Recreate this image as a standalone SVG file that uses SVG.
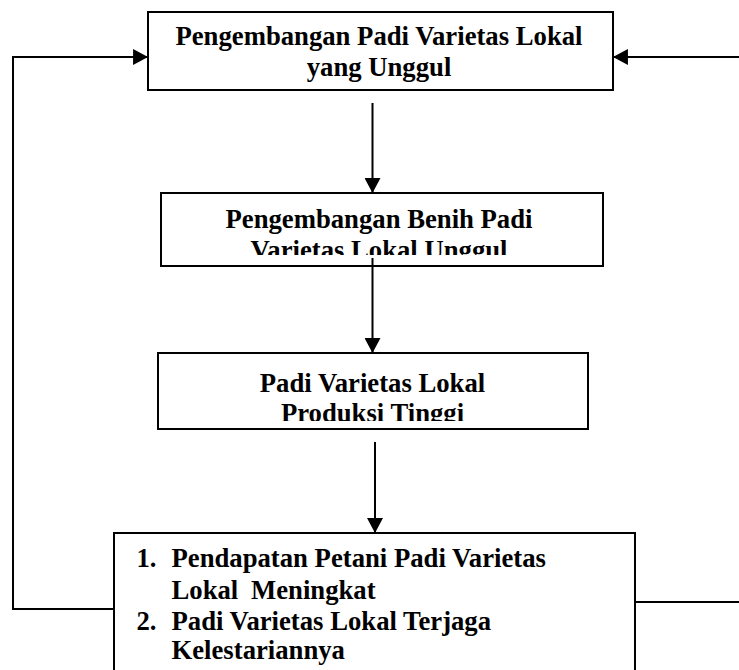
<svg xmlns="http://www.w3.org/2000/svg" width="739" height="670" viewBox="0 0 739 670">
<style>
.box{fill:#fff;stroke:#000;stroke-width:2}
.t{font-family:"Liberation Serif","Times New Roman",serif;font-weight:bold;font-size:26.7px;fill:#000}
.c{text-anchor:middle}
.ln{fill:none;stroke:#000;stroke-width:2}
</style>
<defs>
<marker id="ah" markerUnits="userSpaceOnUse" markerWidth="16" markerHeight="16" viewBox="0 0 14 15" refX="14" refY="7.5" orient="auto">
<path d="M0,0 L14,7.5 L0,15 Z" fill="#000"/>
</marker>
<clipPath id="clip2"><rect x="160" y="190" width="445" height="65"/></clipPath>
<clipPath id="clip3"><rect x="157" y="350" width="433" height="71"/></clipPath>
</defs>
<g id="n1">
<rect class="box" x="148" y="12" width="465" height="78"/>
<text class="t c" x="379" y="45">Pengembangan Padi Varietas Lokal</text>
<text class="t c" x="379" y="76">yang Unggul</text>
</g>
<g id="n2">
<rect class="box" x="161" y="193" width="442" height="73"/>
<g clip-path="url(#clip2)">
<text class="t c" x="379" y="228">Pengembangan Benih Padi</text>
<text class="t c" x="379" y="259">Varietas Lokal Unggul</text>
</g>
</g>
<g id="n3">
<rect class="box" x="158" y="353" width="430" height="76"/>
<g clip-path="url(#clip3)">
<text class="t c" x="372.5" y="391.5">Padi Varietas Lokal</text>
<text class="t c" x="372.5" y="422">Produksi Tinggi</text>
</g>
</g>
<g id="n4">
<rect class="box" x="114" y="533" width="521" height="150"/>
<text class="t" x="136.5" y="566.5">1.</text>
<text class="t" x="171.5" y="566.5">Pendapatan Petani Padi Varietas</text>
<text class="t" x="171.5" y="599">Lokal</text>
<text class="t" x="251" y="599">Meningkat</text>
<text class="t" x="136.5" y="630">2.</text>
<text class="t" x="171.5" y="630">Padi Varietas Lokal Terjaga</text>
<text class="t" x="171.5" y="658.5">Kelestariannya</text>
</g>
<g id="connectors">
<line class="ln" x1="372.5" y1="103" x2="372.5" y2="193" marker-end="url(#ah)"/>
<line class="ln" x1="372.5" y1="258" x2="372.5" y2="353" marker-end="url(#ah)"/>
<line class="ln" x1="375" y1="442" x2="375" y2="533" marker-end="url(#ah)"/>
<polyline class="ln" points="114,609 13,609 13,57 148,57" marker-end="url(#ah)"/>
<line class="ln" x1="739" y1="57" x2="613" y2="57" marker-end="url(#ah)"/>
<line class="ln" x1="635" y1="602" x2="739" y2="602"/>
</g>
</svg>
